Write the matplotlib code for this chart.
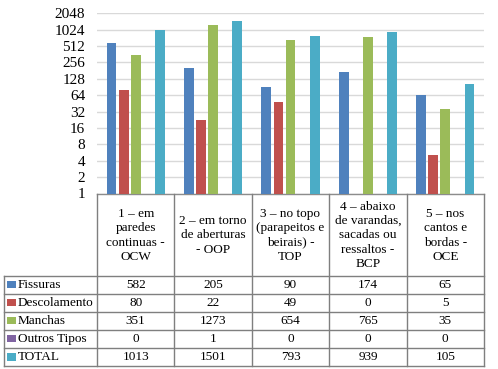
import matplotlib
matplotlib.use("Agg")
import matplotlib.pyplot as plt
import numpy as np
from matplotlib.patches import Rectangle

plt.rcParams['font.family'] = ['Liberation Serif', 'DejaVu Serif']

categories = [
    "1 \u2013 em\nparedes\ncontinuas -\nOCW",
    "2 \u2013 em torno\nde aberturas\n- OOP",
    "3 \u2013 no topo\n(parapeitos e\nbeirais) -\nTOP",
    "4 \u2013 abaixo\nde varandas,\nsacadas ou\nressaltos -\nBCP",
    "5 \u2013 nos\ncantos e\nbordas -\nOCE",
]
series_names = ["Fissuras", "Descolamento", "Manchas", "Outros Tipos", "TOTAL"]
fissuras = [582, 205, 90, 174, 65]
descolamento = [80, 22, 49, 0, 5]
manchas = [351, 1273, 654, 765, 35]
outros = [0, 1, 0, 0, 0]
total = [1013, 1501, 793, 939, 105]
series_values = [fissuras, descolamento, manchas, outros, total]
colors = ["#4F81BD", "#C0504D", "#9BBB59", "#8064A2", "#4BACC6"]
yticks = [1, 2, 4, 8, 16, 32, 64, 128, 256, 512, 1024, 2048]

W, H = 498, 369
fig = plt.figure(figsize=(W / 100, H / 100), dpi=100)

ax_left, ax_right = 97, 484
ax_top, ax_bot = 13.3, 193.5
ax = fig.add_axes([ax_left / W, 1 - ax_bot / H, (ax_right - ax_left) / W, (ax_bot - ax_top) / H])

n = len(categories)
x = np.arange(n)
step = 0.156
bw = 0.126
for i, (name, vals, c) in enumerate(zip(series_names, series_values, colors)):
    ax.bar(x + (i - 2) * step, vals, width=bw, color=c, bottom=0, zorder=3)

ax.set_yscale('log', base=2)
ax.set_ylim(1, 2048)
ax.set_xlim(-0.5, n - 0.5)
ax.set_yticks(yticks)
ax.set_yticklabels([str(t) for t in yticks])
ax.yaxis.set_minor_locator(matplotlib.ticker.NullLocator())
ax.tick_params(axis='y', length=0, pad=8.5, labelsize=11)
ax.set_xticks([])
ax.grid(axis='y', color='#D9D9D9', linewidth=1, zorder=0)
for s in ['left', 'right', 'top']:
    ax.spines[s].set_visible(False)
ax.spines['bottom'].set_color('#8C8C8C')
ax.spines['bottom'].set_linewidth(1)
ax.patch.set_alpha(0)

# Data table overlay
tab = fig.add_axes([0, 0, 1, 1])
tab.set_xlim(0, W)
tab.set_ylim(H, 0)
tab.axis('off')
tab.patch.set_alpha(0)

lc = '#7F7F7F'
lw = 1
tbl_left = 3.5
row_top = 275.5
row_h = 18.1
n_rows = len(series_names)
tbl_bot = row_top + n_rows * row_h
col_w = (ax_right - ax_left) / n
col_x = [ax_left + k * col_w for k in range(n + 1)]

# vertical lines
for cx in col_x:
    tab.plot([cx, cx], [ax_bot, tbl_bot], color=lc, lw=lw)
tab.plot([tbl_left, tbl_left], [row_top, tbl_bot], color=lc, lw=lw)
# horizontal lines
for r in range(n_rows + 1):
    y = row_top + r * row_h
    tab.plot([tbl_left, ax_right], [y, y], color=lc, lw=lw)

fs = 9.5
# headers
for k, cat in enumerate(categories):
    tab.text((col_x[k] + col_x[k + 1]) / 2, (ax_bot + row_top) / 2 + 1, cat,
             ha='center', va='center', fontsize=fs, linespacing=1.27)

# rows
for r, (name, vals, c) in enumerate(zip(series_names, series_values, colors)):
    yc = row_top + (r + 0.5) * row_h
    tab.add_patch(Rectangle((7.3, yc - 3.6), 8.5, 7.2, color=c, lw=0))
    tab.text(17.5, yc + 0.5, name, ha='left', va='center', fontsize=fs)
    for k, v in enumerate(vals):
        tab.text((col_x[k] + col_x[k + 1]) / 2, yc + 0.5, str(v),
                 ha='center', va='center', fontsize=fs)

fig.savefig("out.png", dpi=100)
